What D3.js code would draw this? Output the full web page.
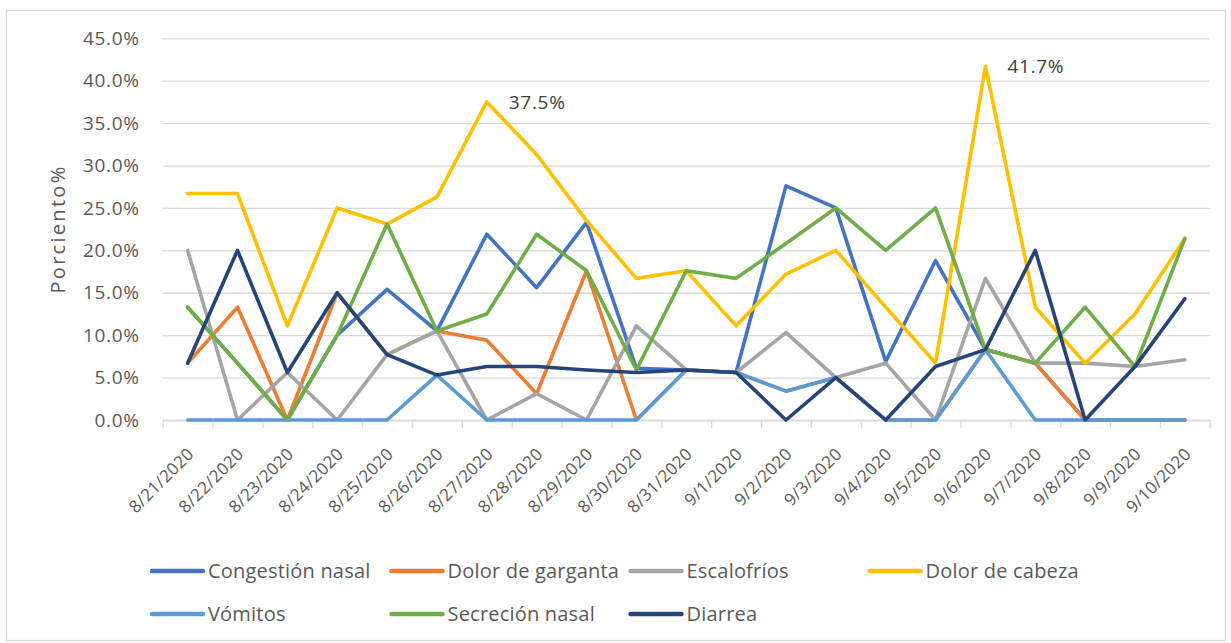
<!DOCTYPE html>
<html>
<head>
<meta charset="utf-8">
<script src="https://cdn.jsdelivr.net/npm/d3@7"></script>
<style>
  body { margin: 0; background: #fff; }
  svg text { font-family: "Open Sans", "Noto Sans", sans-serif; fill: #595959; }
</style>
</head>
<body>
<div id="chart"></div>
<script>

// categories and series (percent)
var dates = ['8/21/2020', '8/22/2020', '8/23/2020', '8/24/2020', '8/25/2020', '8/26/2020', '8/27/2020',
    '8/28/2020', '8/29/2020', '8/30/2020', '8/31/2020', '9/1/2020', '9/2/2020', '9/3/2020', '9/4/2020',
    '9/5/2020', '9/6/2020', '9/7/2020', '9/8/2020', '9/9/2020', '9/10/2020'];

var congestion = [13.3, 6.7, 0, 10.0, 15.4, 10.5, 21.9, 15.6, 23.3, 6.1, 5.9, 5.6, 27.6, 25.0, 6.9, 18.8, 8.3, 6.7, 0, 0, 0];
var garganta = [6.7, 13.3, 0, 15.0, 7.7, 10.5, 9.4, 3.1, 17.6, 0, 5.9, 5.6, 3.4, 5.0, 0, 0, 8.3, 6.7, 0, 0, 0];
var escalofrios = [20.0, 0, 5.6, 0, 7.7, 10.5, 0, 3.1, 0, 11.1, 5.9, 5.6, 10.3, 5.0, 6.7, 0, 16.7, 6.7, 6.7, 6.3, 7.1];
var cabeza = [26.7, 26.7, 11.1, 25.0, 23.1, 26.3, 37.5, 31.3, 23.5, 16.7, 17.6, 11.1, 17.2, 20.0, 13.3, 6.7, 41.7, 13.3, 6.7, 12.5, 21.4];
var vomitos = [0, 0, 0, 0, 0, 5.3, 0, 0, 0, 0, 5.9, 5.6, 3.4, 5.0, 0, 0, 8.3, 0, 0, 0, 0];
var secrecion = [13.3, 6.7, 0, 10.0, 23.1, 10.5, 12.5, 21.9, 17.6, 5.9, 17.6, 16.7, 20.8, 25.0, 20.0, 25.0, 8.3, 6.7, 13.3, 6.3, 21.4];
var diarrea = [6.7, 20.0, 5.6, 15.0, 7.7, 5.3, 6.3, 6.3, 5.9, 5.6, 5.9, 5.6, 0, 5.0, 0, 6.3, 8.3, 20.0, 0, 6.3, 14.3];

var seriesNames = ['Congestión nasal', 'Dolor de garganta', 'Escalofríos', 'Dolor de cabeza', 'Vómitos', 'Secreción nasal', 'Diarrea'];
var seriesColors = ['#4472C4', '#ED7D31', '#A5A5A5', '#FFC000', '#5B9BD5', '#70AD47', '#264478'];
var seriesValues = [congestion, garganta, escalofrios, cabeza, vomitos, secrecion, diarrea];

var yTicks = [0, 5, 10, 15, 20, 25, 30, 35, 40, 45];
// points of "Dolor de cabeza" that carry a data label
var labelledPoints = [6, 16];

var svgWidth = 1231;
var svgHeight = 643;

var plot = { left: 162.7, right: 1209.8, top: 38.3, bottom: 420 };

var svg = d3.select('#chart')
    .append('svg')
    .attr('width', svgWidth)
    .attr('height', svgHeight);

// chart area border
svg.append('rect')
    .attr('x', 6.5)
    .attr('y', 10.5)
    .attr('width', 1219)
    .attr('height', 630)
    .attr('fill', '#fff')
    .attr('stroke', '#d9d9d9')
    .attr('stroke-width', 1.3);

var x = d3.scaleBand()
    .domain(dates)
    .range([plot.left, plot.right]);

var xEdge = d3.scaleLinear()
    .domain([0, dates.length])
    .range([plot.left, plot.right]);

var y = d3.scaleLinear()
    .domain([0, 45])
    .range([plot.bottom, plot.top]);

// y axis with gridlines
var yAxis = svg.append('g')
    .attr('transform', `translate(${plot.left}, 0)`)
    .call(d3.axisLeft(y)
        .tickValues(yTicks)
        .tickSize(-(plot.right - plot.left))
        .tickPadding(23)
        .tickFormat(d => d.toFixed(1) + '%'));

yAxis.select('.domain').remove();
yAxis.selectAll('line')
    .attr('stroke', '#d9d9d9')
    .attr('stroke-width', 1.3);
yAxis.selectAll('text')
    .attr('font-family', '"Open Sans", sans-serif')
    .attr('font-size', '19px')
    .attr('letter-spacing', '0.7px')
    .attr('fill', '#595959');

// x axis: line and tick marks at category edges
var xTicks = svg.append('g')
    .attr('transform', `translate(0, ${plot.bottom})`)
    .call(d3.axisBottom(xEdge)
        .tickValues(d3.range(dates.length + 1))
        .tickSize(8)
        .tickSizeOuter(0)
        .tickFormat(''));

xTicks.selectAll('line, path')
    .attr('stroke', '#d9d9d9')
    .attr('stroke-width', 1.3);

// x axis labels
var xLabels = svg.append('g')
    .attr('transform', `translate(0, ${plot.bottom})`)
    .call(d3.axisBottom(x).tickSize(0));

xLabels.select('.domain').remove();
xLabels.selectAll('text')
    .attr('font-family', '"Open Sans", sans-serif')
    .attr('font-size', '17px')
    .attr('letter-spacing', '0.3px')
    .attr('fill', '#595959')
    .attr('text-anchor', 'end')
    .attr('y', 0)
    .attr('dy', '0.35em')
    .attr('transform', 'translate(3, 31) rotate(-45)');

// y axis title
svg.append('text')
    .attr('transform', 'translate(58, 229) rotate(-90)')
    .attr('text-anchor', 'middle')
    .attr('dy', '0.35em')
    .attr('font-size', '20px')
    .attr('letter-spacing', '2.3px')
    .text('Porciento%');

// lines
var line = d3.line()
    .x((d, i) => x(dates[i]) + x.bandwidth() / 2)
    .y(d => y(d));

svg.append('g')
    .selectAll('path')
    .data(seriesValues)
    .enter()
    .append('path')
    .attr('d', d => line(d))
    .attr('fill', 'none')
    .attr('stroke', (d, i) => seriesColors[i])
    .attr('stroke-width', 3.6)
    .attr('stroke-linejoin', 'round')
    .attr('stroke-linecap', 'round');

// data labels on Dolor de cabeza
svg.append('g')
    .selectAll('text')
    .data(labelledPoints)
    .enter()
    .append('text')
    .attr('x', i => x(dates[i]) + x.bandwidth() / 2 + 22)
    .attr('y', i => y(cabeza[i]))
    .attr('dy', '0.35em')
    .attr('font-size', '19px')
    .attr('letter-spacing', '0.7px')
    .style('fill', '#404040')
    .text(i => cabeza[i].toFixed(1) + '%');

// legend
var legendX = [150, 389.5, 628.5, 867.6];
var legendY = [571, 614];

var legend = svg.append('g')
    .selectAll('g')
    .data(seriesNames)
    .enter()
    .append('g')
    .attr('transform', (d, i) => {
        var col = i < 4 ? i : i - 4;
        var row = i < 4 ? 0 : 1;
        return `translate(${legendX[col]}, ${legendY[row]})`;
    });

legend.append('line')
    .attr('x1', 2)
    .attr('x2', 53)
    .attr('stroke', (d, i) => seriesColors[i])
    .attr('stroke-width', 4.5)
    .attr('stroke-linecap', 'round');

legend.append('text')
    .attr('x', 58)
    .attr('dy', '0.35em')
    .attr('font-size', '20px')
    .attr('letter-spacing', '0.2px')
    .text(d => d);

</script>
</body>
</html>
